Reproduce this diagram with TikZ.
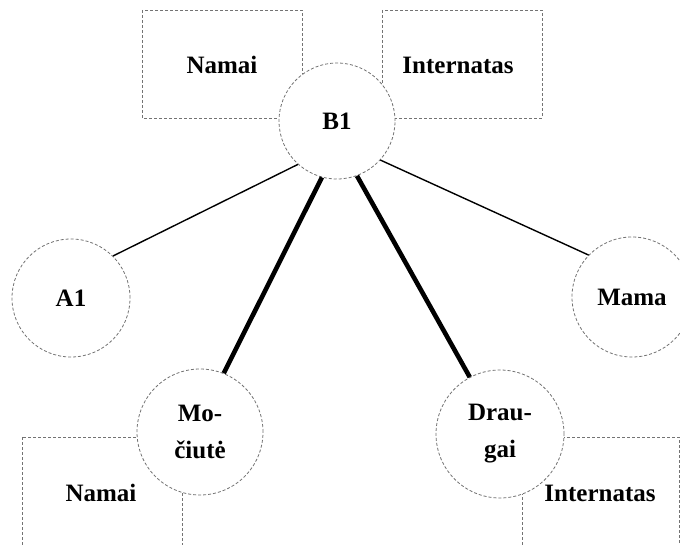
\documentclass[tikz,border=0pt]{standalone}
\usepackage{fontspec}
\setmainfont{Liberation Serif}
\begin{document}
\begin{tikzpicture}[x=1pt,y=-1pt,
  circ/.style={circle,draw=black!55,line width=0.8pt,densely dashed,fill=white,inner sep=0pt,align=center,font=\bfseries\fontsize{25}{37}\selectfont},
  grp/.style={draw=black!55,line width=0.8pt,densely dashed},
  lbl/.style={font=\bfseries\fontsize{25}{30}\selectfont,inner sep=0pt},
  thinedge/.style={line width=1.4pt,black},
  thickedge/.style={line width=4.6pt,black}]
\useasboundingbox (0,0) rectangle (680,545);
\clip (0,0) rectangle (680,545);
% group rectangles
\draw[grp] (142,10) rectangle (302,118);
\draw[grp] (382,10) rectangle (542,118);
\draw[grp] (22,437) rectangle (182,549);
\draw[grp] (522,437) rectangle (679,549);
% circles
\node[circ,minimum size=116pt] (B1) at (337,121) {B1};
\node[circ,minimum size=118pt] (A1) at (71,298) {A1};
\node[circ,minimum size=120pt] (Mama) at (632,297) {Mama};
\node[circ,minimum size=126pt] (Moc) at (200,432) {Mo-\\čiutė};
\node[circ,minimum size=128pt] (Dr) at (500,434) {Drau-\\gai};
% group labels
\node[lbl] (n1) at (222,65) {Namai};
\node[lbl] (i1) at (458,65) {Internatas};
\node[lbl] (n2) at (101,493) {Namai};
\node[lbl] (i2) at (600,493) {Internatas};
% connectors
\draw[thinedge] (B1.228) -- (A1.45);
\draw[thinedge] (B1.318) -- (Mama.136);
\draw[thickedge] (B1.255) -- (Moc.68);
\draw[thickedge] (B1.290) -- (Dr.118);
\end{tikzpicture}
\end{document}
